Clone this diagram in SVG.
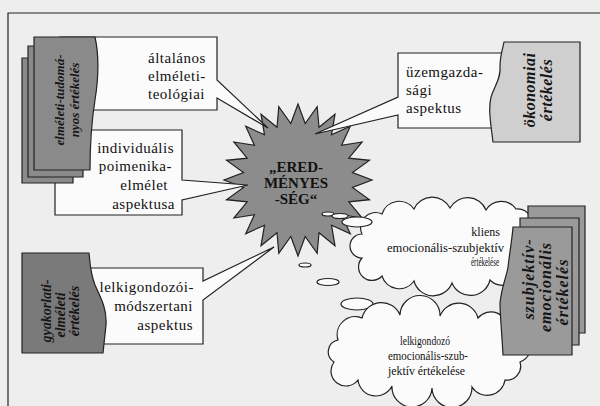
<svg xmlns="http://www.w3.org/2000/svg" width="600" height="406" viewBox="0 0 600 406">
<style>
.ln{fill:none;stroke:#222;stroke-width:1.2}
.box{fill:#fbfbfb;stroke:#222;stroke-width:1.2;stroke-linejoin:miter}
.doc{stroke:#222;stroke-width:1.2}
text{font-family:'Liberation Serif','DejaVu Serif',serif}
.t{font-size:15px;fill:#111;letter-spacing:0.5px}
.r{text-anchor:end}
.dt{font-weight:bold;font-style:italic;fill:#161616;text-anchor:middle}
.st{font-weight:bold;font-size:15px;fill:#111;text-anchor:middle}
.ct{font-size:12px;fill:#111}
.cl{fill:#fbfbfb;stroke:#222;stroke-width:1.2}
</style>
<rect width="600" height="406" fill="#eeeeee"/>
<g id="frame"><path class="ln" d="M8,406 V13 H600" stroke-width="1.6"/></g>

<g id="star">
<polygon fill="#8c8c8c" stroke="#222" stroke-width="1.2" points="298,104 305.2,123.5 317.2,106.6 319,127.3 335,114.2 331.5,134.8 350.3,126.3 341.6,145.3 362.1,142 348.8,158.2 369.5,160.3 352.5,172.6 372,180 352.5,187.4 369.5,199.7 348.8,201.8 362.1,218 341.6,214.7 350.3,233.7 331.5,225.2 335,245.8 319,232.7 317.2,253.4 305.2,236.5 298,256 290.8,236.5 278.8,253.4 277,232.7 261,245.8 264.5,225.2 245.7,233.7 254.4,214.7 233.9,218 247.2,201.8 226.5,199.7 243.5,187.4 224,180 243.5,172.6 226.5,160.3 247.2,158.2 233.9,142 254.4,145.3 245.7,126.3 264.5,134.8 261,114.2 277,127.3 278.8,106.6 290.8,123.5"/>
<text class="st" x="296" y="172">„ERED-</text>
<text class="st" x="296" y="188">MÉNYES</text>
<text class="st" x="296" y="204">-SÉG“</text>
</g>

<g id="connectors">
<ellipse class="cl" cx="328" cy="214" rx="6" ry="2"/>
<ellipse class="cl" cx="340" cy="216" rx="8" ry="2.5"/>
<ellipse class="cl" cx="305" cy="265" rx="6" ry="2"/>
<ellipse class="cl" cx="328" cy="282" rx="11" ry="3.5"/>
<ellipse class="cl" cx="357" cy="304" rx="16" ry="6"/>
</g>

<g id="box-altalanos">
<path class="box" d="M60,37 H217 V80 L268,128 L217,98 V110 H60 Z"/>
<text class="t" x="148" y="63">általános</text>
<text class="t" x="148" y="81">elméleti-</text>
<text class="t" x="148" y="99">teológiai</text>
</g>

<g id="box-individualis">
<path class="box" d="M55,130 H182 V180 L248,185 L182,200 V215 H55 Z"/>
<text class="t r" x="174" y="153">individuális</text>
<text class="t r" x="172" y="171">poimenika-</text>
<text class="t r" x="168" y="190">elmélet</text>
<text class="t r" x="175" y="209">aspektusa</text>
</g>

<g id="stack-elmeleti">
<path class="doc" fill="#8a8a8a" d="M22,58 H73 V183 H22 Z"/>
<path class="doc" fill="#8a8a8a" d="M28,46 H83 V177 H28 Z"/>
<path class="doc" fill="#8a8a8a" d="M34,37 H95 C99,55 99,75 95,100 C91,125 90,145 90,170 H34 Z"/>
<text class="dt" font-size="13" transform="translate(64,100) rotate(-90)">elméleti-tudomá-</text>
<text class="dt" font-size="13" transform="translate(79,100) rotate(-90)">nyos értékelés</text>
</g>

<g id="box-uzemgazdasagi">
<path class="box" d="M398,53 H540 V128 H398 V115 L315,134 L398,97 Z"/>
<text class="t" x="406" y="77">üzemgazda-</text>
<text class="t" x="406" y="95">sági</text>
<text class="t" x="406" y="113">aspektus</text>
</g>

<g id="doc-okonomiai">
<path class="doc" fill="#cfcfcf" d="M504,42 H580 V142 H493 C491,125 488,110 491,97 C495,85 501,78 500,67 C500,55 503,48 504,42 Z"/>
<text class="dt" font-size="16" letter-spacing="0.5" transform="translate(535,90) rotate(-90)">ökonomiai</text>
<text class="dt" font-size="16" letter-spacing="0.5" transform="translate(552,90) rotate(-90)">értékelés</text>
</g>

<g id="box-lelkigondozoi">
<path class="box" d="M60,268 H203 V281 L274,247 L203,300 V344 H60 Z"/>
<text class="t r" x="194" y="292">lelkigondozói-</text>
<text class="t r" x="193" y="311">módszertani</text>
<text class="t r" x="193" y="330">aspektus</text>
</g>

<g id="doc-gyakorlati">
<path class="doc" fill="#7a7a7a" d="M22,253 H89 C90,262 90,272 95,285 C102,300 107,310 106,325 L103,353 H22 Z"/>
<text class="dt" font-size="14" transform="translate(51,311) rotate(-90)">gyakorlati-</text>
<text class="dt" font-size="14" transform="translate(65,315) rotate(-90)">elméleti</text>
<text class="dt" font-size="14" transform="translate(79,311) rotate(-90)">értékelés</text>
</g>

<g id="cloud-kliens">
<path class="cl" d="M362,234 A15 15 0 0 1 382,214 A18 18 0 0 1 414,209 A20 20 0 0 1 450,208 A20 20 0 0 1 486,210 A18 18 0 0 1 516,209 A15 15 0 0 1 530,232 A17 17 0 0 1 520,262 A18 18 0 0 1 490,280 A20 20 0 0 1 452,283 A20 20 0 0 1 414,281 A18 18 0 0 1 382,276 A13 13 0 0 1 362,258 A12 12 0 0 1 362,234 Z"/>
<ellipse class="cl" cx="357" cy="222" rx="15" ry="5"/>
<text class="ct r" x="500" y="236">kliens</text>
<text class="ct r" x="504" y="252" textLength="117" lengthAdjust="spacingAndGlyphs">emocionális-szubjektív</text>
<text class="ct r" x="499" y="266" font-size="10" textLength="28" lengthAdjust="spacingAndGlyphs">értékelése</text>
</g>

<g id="cloud-lelkigondozo">
<path class="cl" d="M338,340 A18 18 0 0 1 362,318 A20 20 0 0 1 400,315 A20 20 0 0 1 440,316 A20 20 0 0 1 478,318 A17 17 0 0 1 508,330 A17 17 0 0 1 520,362 A14 14 0 0 1 505,380 A18 18 0 0 1 472,387 A20 20 0 0 1 432,388 A20 20 0 0 1 392,386 A18 18 0 0 1 358,380 A14 14 0 0 1 334,362 A12 12 0 0 1 338,340 Z"/>
<text class="ct" x="400" y="345" textLength="50" lengthAdjust="spacingAndGlyphs">lelkigondozó</text>
<text class="ct" x="388" y="360" textLength="80" lengthAdjust="spacingAndGlyphs">emocionális-szub-</text>
<text class="ct" x="388" y="375" textLength="77" lengthAdjust="spacingAndGlyphs">jektív értékelése</text>
</g>

<g id="stack-szubjektiv">
<path class="doc" fill="#9a9a9a" d="M528,206 H585 V333 H528 Z"/>
<path class="doc" fill="#9a9a9a" d="M520,218 H579 V345 H520 Z"/>
<path class="doc" fill="#9a9a9a" d="M513,227 H572 V355 H503 C502,335 500,315 500,303 C502,285 507,275 508,267 C510,250 512,240 513,227 Z"/>
<text class="dt" font-size="16" letter-spacing="1" transform="translate(534,279) rotate(-90)">szubjektív-</text>
<text class="dt" font-size="16" letter-spacing="1" transform="translate(551,287) rotate(-90)">emocionális</text>
<text class="dt" font-size="16" letter-spacing="1" transform="translate(568,292) rotate(-90)">értékelés</text>
</g>
</svg>
